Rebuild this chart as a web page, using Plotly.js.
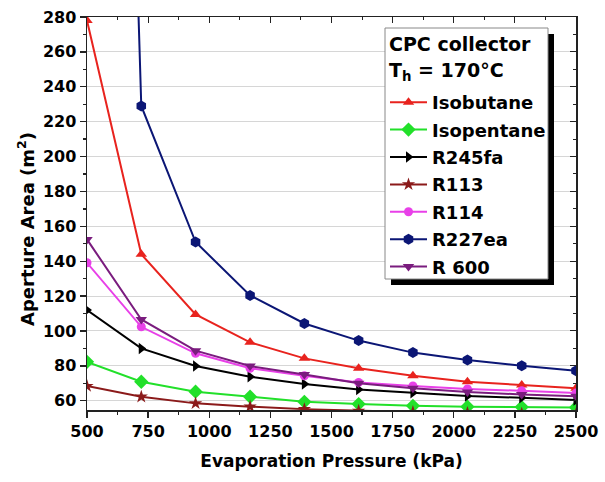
<!DOCTYPE html>
<html><head><meta charset="utf-8">
<script src="https://cdn.plot.ly/plotly-3.0.1.min.js"></script>
<style>body{margin:0;background:#fff}#chart{width:605px;height:482px}</style>
</head><body><div id="chart"></div>
<script>
const pressure = [500, 722, 944, 1167, 1389, 1611, 1833, 2056, 2278, 2500];
const isobutane = [278, 144, 109.5, 93.5, 84.3, 78.6, 74.3, 70.9, 69, 67.1];
const isopentane = [82.3, 70.9, 65.2, 62.3, 59.4, 58.1, 57.1, 56.6, 56.4, 56.2];
const r245fa = [112, 90, 79.9, 73.8, 69.6, 66.5, 64.6, 62.7, 61.7, 60.4];
const r113 = [68.4, 62.3, 58.5, 56.6, 55.2, 54.2, 53.5, 53, 52.6, 52.2];
const r114 = [139.1, 102.4, 87.2, 78.6, 74.3, 70.5, 68.5, 66.8, 65.7, 64.4];
const r227ea = [1250, 229, 151, 120.4, 104.3, 94.5, 87.6, 83.3, 80.1, 77.2];
const r600 = [152.5, 106.6, 88.7, 79.9, 75.1, 70.0, 67.2, 65.0, 63.6, 62.6];
const seriesNames = ['Isobutane', 'Isopentane', 'R245fa', 'R113', 'R114', 'R227ea', 'R 600'];
const legendTitle = ['CPC collector', 'T<sub>h</sub> = 170°C'];
const xTitle = 'Evaporation Pressure (kPa)';
const yTitle = 'Aperture Area (m<sup>2</sup>)';

const seriesData = [isobutane, isopentane, r245fa, r113, r114, r227ea, r600];
const colors = ['#E8231E', '#22E02A', '#000000', '#8B1A1A', '#E840E8', '#0B1675', '#7A1C7E'];
const symbols = ['triangle-up', 'diamond', 'triangle-right', 'star', 'circle', 'hexagon', 'triangle-down'];
const sizes = [10, 11, 10, 10, 9, 11, 10];

const traces = seriesData.map((ys, i) => ({
  x: pressure, y: ys, name: seriesNames[i], type: 'scatter', mode: 'lines+markers',
  legendgroup: 'g' + i,
  line: {color: colors[i], width: 2},
  marker: {color: colors[i], symbol: symbols[i], size: sizes[i]},
  cliponaxis: true
}));
traces.push({x: [], y: [], xaxis: 'x2', yaxis: 'y2', showlegend: false, type: 'scatter', hoverinfo: 'skip'});

const fontFam = 'DejaVu Sans, Arial, sans-serif';
const tickFont = {family: fontFam, size: 16, color: '#000', weight: 'bold'};
const xr = [500, 2500], yr = [54.7, 280];

// pixel helpers for the legend box (plot area: l=87, w=489, t=17, h=393)
const PX = p => (p - 87) / 489;
const PY = p => (410 - p) / 393;

const layout = {
  width: 605, height: 482,
  margin: {l: 87, r: 29, t: 17, b: 72},
  paper_bgcolor: '#fff', plot_bgcolor: '#fff',
  showlegend: true,
  xaxis: {
    range: xr, dtick: 250, tick0: 500, ticks: 'outside', ticklen: 6, tickwidth: 1.3, tickcolor: '#222',
    showline: true, linecolor: '#222', linewidth: 1.5, showgrid: false, zeroline: false,
    tickfont: tickFont,
    minor: {dtick: 125, ticks: 'outside', ticklen: 3, tickcolor: '#222', showgrid: false},
    title: {text: xTitle, font: {family: fontFam, size: 17, color: '#000', weight: 'bold'}, standoff: 15}
  },
  yaxis: {
    range: yr, dtick: 20, tick0: 60, ticks: 'outside', ticklen: 6, tickwidth: 1.3, tickcolor: '#222',
    showline: true, linecolor: '#222', linewidth: 1.5, showgrid: true, gridcolor: '#d6d6d6', gridwidth: 1, zeroline: false,
    tickfont: tickFont,
    minor: {dtick: 10, ticks: 'outside', ticklen: 3, tickcolor: '#222', showgrid: false}
  },
  xaxis2: {
    overlaying: 'x', side: 'top', range: xr, dtick: 250, tick0: 500, ticks: 'inside', ticklen: 6, tickcolor: '#222',
    showticklabels: false, showline: true, linecolor: '#222', linewidth: 1.5, showgrid: false, zeroline: false,
    minor: {dtick: 125, ticks: 'inside', ticklen: 3, tickcolor: '#222'}
  },
  yaxis2: {
    overlaying: 'y', side: 'right', range: yr, dtick: 20, tick0: 60, ticks: 'inside', ticklen: 6, tickcolor: '#222',
    showticklabels: false, showline: true, linecolor: '#222', linewidth: 1.5, showgrid: false, zeroline: false,
    minor: {dtick: 10, ticks: 'inside', ticklen: 3, tickcolor: '#222'}
  },
  legend: {
    x: PX(385), y: PY(84), xanchor: 'left', yanchor: 'top',
    bgcolor: 'rgba(0,0,0,0)', borderwidth: 0,
    font: {family: fontFam, size: 18, color: '#000', weight: 'bold'},
    itemwidth: 37, tracegroupgap: 1
  },
  shapes: [
    {type: 'rect', xref: 'paper', yref: 'paper', layer: 'above',
     x0: PX(391), x1: PX(554), y0: PY(285), y1: PY(34), fillcolor: '#000', line: {width: 0}},
    {type: 'rect', xref: 'paper', yref: 'paper', layer: 'above',
     x0: PX(385), x1: PX(548), y0: PY(279), y1: PY(28), fillcolor: '#fff', line: {color: '#888', width: 1}}
  ],
  annotations: [
    {text: legendTitle[0], xref: 'paper', yref: 'paper', x: PX(387), y: PY(43.5), xanchor: 'left', yanchor: 'middle',
     showarrow: false, font: {family: fontFam, size: 19, color: '#000', weight: 'bold'}},
    {text: legendTitle[1], xref: 'paper', yref: 'paper', x: PX(387), y: PY(71), xanchor: 'left', yanchor: 'middle',
     showarrow: false, font: {family: fontFam, size: 19, color: '#000', weight: 'bold'}},
    {text: yTitle, xref: 'paper', yref: 'paper', x: PX(26), y: PY(229), xanchor: 'center', yanchor: 'middle',
     textangle: -90, showarrow: false, font: {family: fontFam, size: 18, color: '#000', weight: 'bold'}}
  ]
};

Plotly.newPlot('chart', traces, layout, {displayModeBar: false, staticPlot: true});
</script>
</body></html>
